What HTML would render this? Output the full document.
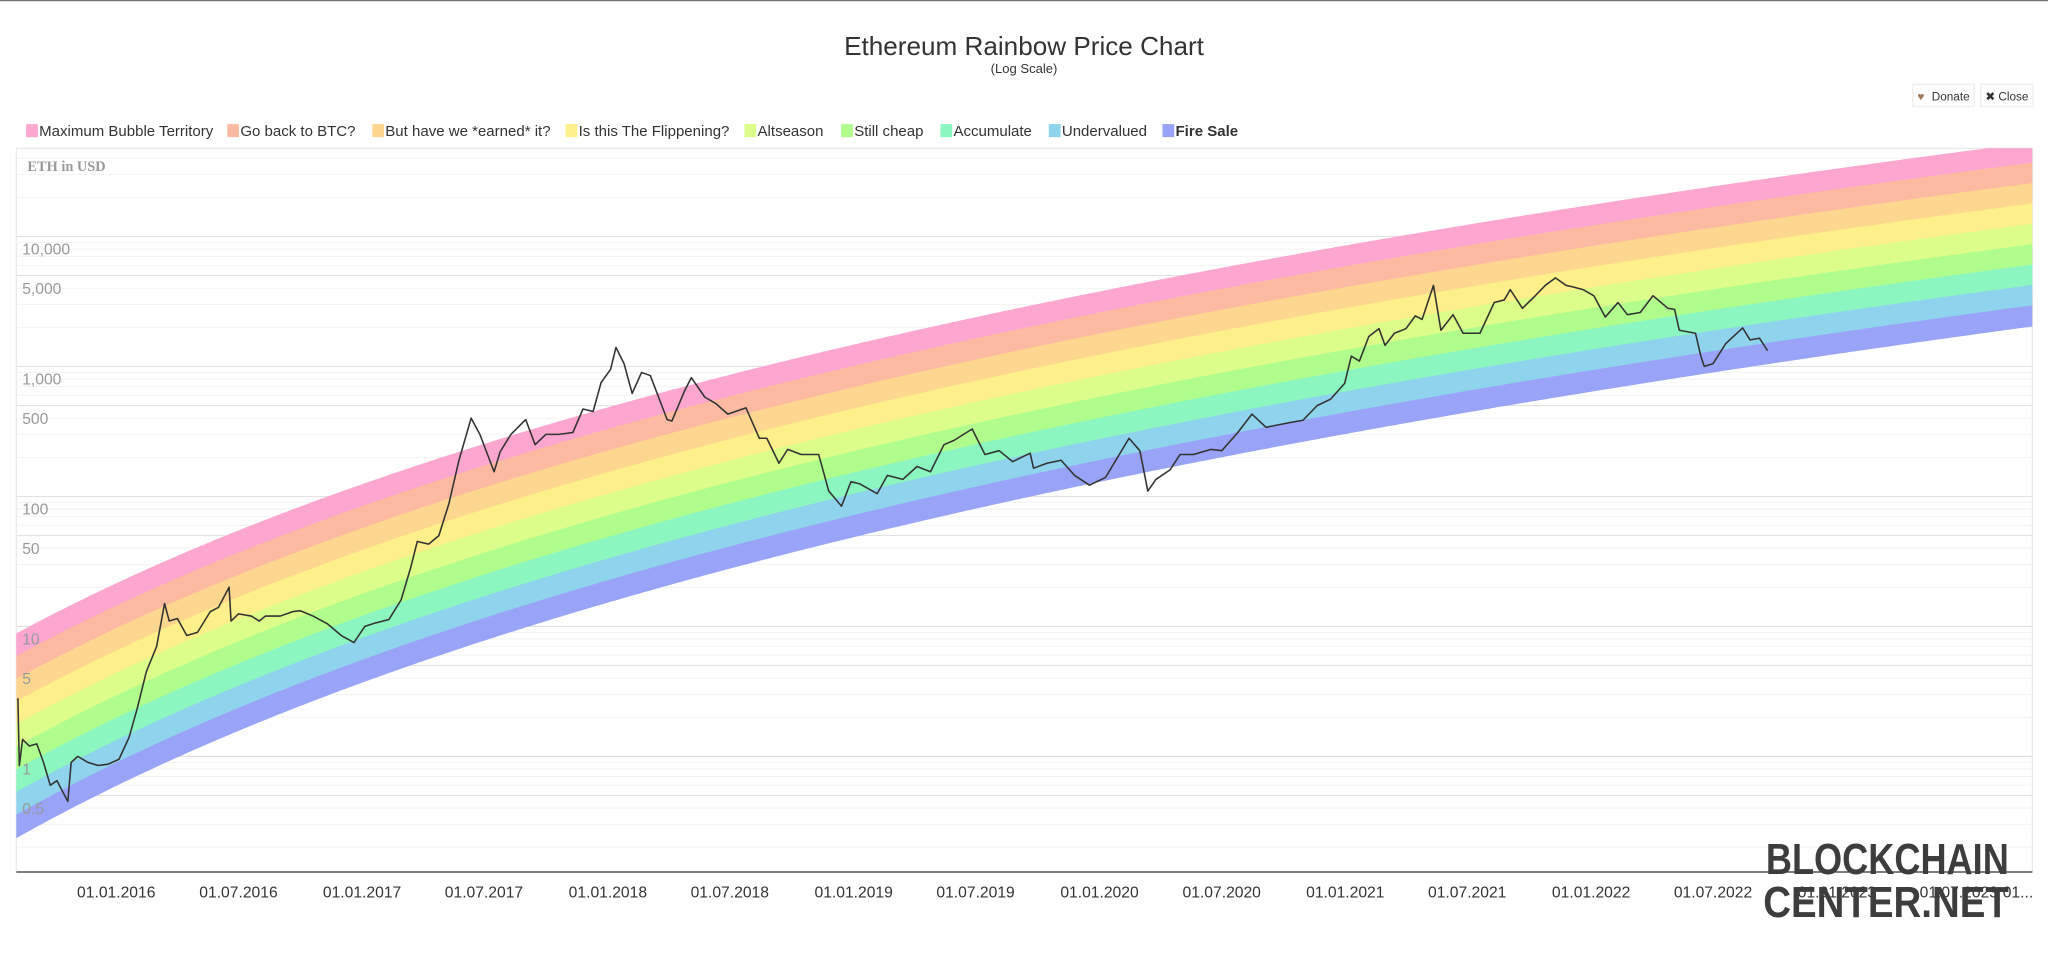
<!DOCTYPE html>
<html><head><meta charset="utf-8">
<style>
html,body{margin:0;padding:0;background:#fff;overflow:hidden}
svg{display:block;font-family:"Liberation Sans",sans-serif}
</style></head>
<body>
<svg id="chart" width="2048" height="968" viewBox="0 0 1568 741" preserveAspectRatio="none" xmlns="http://www.w3.org/2000/svg">
  <line x1="0" y1="0.5" x2="1568" y2="0.5" stroke="#777" stroke-width="1"/>
  <text x="784" y="42" text-anchor="middle" font-size="20" fill="#333">Ethereum Rainbow Price Chart</text>
  <text x="784" y="56" text-anchor="middle" font-size="10" fill="#333">(Log Scale)</text>
  <g>
    <rect x="1464.5" y="64.5" width="47" height="17" fill="#fff" stroke="#eee"/>
    <text x="1468" y="77" font-size="9" fill="#a0785a">♥</text>
    <text x="1479" y="77" font-size="9" fill="#333">Donate</text>
  </g>
  <g>
    <rect x="1516.5" y="64.5" width="40" height="17" fill="#fff" stroke="#eee"/>
    <text x="1520" y="77" font-size="9" fill="#333">✖ Close</text>
  </g>
  <g id="legend"></g>
  <rect x="12.5" y="113.5" width="1543.5" height="554" fill="#fff" stroke="#e6e6e6" stroke-width="0.8"/>
  <g id="grid"></g>
  <clipPath id="plotclip"><rect x="12.5" y="113.5" width="1543.5" height="554"/></clipPath>
  <g id="bands" clip-path="url(#plotclip)"></g>
  <g id="ylabels"></g>
  <text x="21" y="131" font-family="Liberation Serif,serif" font-weight="bold" font-size="11" fill="#999">ETH in USD</text>
  <g id="price" clip-path="url(#plotclip)"></g>
  <line x1="12.5" y1="667.5" x2="1556" y2="667.5" stroke="#333" stroke-width="1"/>
  <g id="xlabels"></g>
  <g>
    <text x="1352" y="669" font-size="33" font-weight="bold" fill="#3d3d3d" textLength="186" lengthAdjust="spacingAndGlyphs">BLOCKCHAIN</text>
    <text x="1350" y="702" font-size="33" font-weight="bold" fill="#3d3d3d" textLength="188" lengthAdjust="spacingAndGlyphs">CENTER.NET</text>
  </g>
</svg>
<script>
const bandNames = ["Maximum Bubble Territory","Go back to BTC?","But have we *earned* it?","Is this The Flippening?","Altseason","Still cheap","Accumulate","Undervalued","Fire Sale"];
const bandColors = ["#fda6cf","#fdbaa2","#fdd68f","#fdf08a","#ddfd8a","#b0fd8d","#8cf6c0","#8fd3ec","#99a4f8"];
const legendX = [20,174,285,433,570,644,720,803,890];
const yTickValues = [10000,5000,1000,500,100,50,10,5,1,0.5];
const yTickLabels = ["10,000","5,000","1,000","500","100","50","10","5","1","0.5"];
const xTickDates = ["2016-01-01","2016-07-01","2017-01-01","2017-07-01","2018-01-01","2018-07-01","2019-01-01","2019-07-01","2020-01-01","2020-07-01","2021-01-01","2021-07-01","2022-01-01","2022-07-01","2023-01-01","2023-07-01"];
const xTickLabels = ["01.01.2016","01.07.2016","01.01.2017","01.07.2017","01.01.2018","01.07.2018","01.01.2019","01.07.2019","01.01.2020","01.07.2020","01.01.2021","01.07.2021","01.01.2022","01.07.2022","01.01.2023","01.07.2023"];
const priceDates = ["2015-08-08","2015-08-10","2015-08-15","2015-08-25","2015-09-05","2015-09-15","2015-09-25","2015-10-05","2015-10-21","2015-10-26","2015-11-05","2015-11-20","2015-12-05","2015-12-20","2016-01-05","2016-01-20","2016-02-01","2016-02-15","2016-03-01","2016-03-13","2016-03-20","2016-04-01","2016-04-15","2016-05-01","2016-05-20","2016-06-01","2016-06-17","2016-06-20","2016-07-01","2016-07-20","2016-08-01","2016-08-10","2016-09-01","2016-09-20","2016-10-01","2016-10-20","2016-11-10","2016-12-01","2016-12-20","2017-01-05","2017-01-20","2017-02-10","2017-02-28","2017-03-14","2017-03-24","2017-04-10","2017-04-25","2017-05-10","2017-05-25","2017-06-12","2017-06-25","2017-07-16","2017-07-25","2017-08-10","2017-09-01","2017-09-15","2017-10-01","2017-10-20","2017-11-10","2017-11-25","2017-12-10","2017-12-22","2018-01-05","2018-01-13","2018-01-25","2018-02-06","2018-02-20","2018-03-05","2018-03-30","2018-04-06","2018-04-25","2018-05-05","2018-05-25","2018-06-10","2018-06-28","2018-07-25","2018-08-14","2018-08-25","2018-09-12","2018-09-25","2018-10-15","2018-11-10","2018-11-25","2018-12-14","2018-12-28","2019-01-10","2019-02-05","2019-02-20","2019-03-15","2019-04-05","2019-04-25","2019-05-15","2019-05-30","2019-06-26","2019-07-15","2019-08-05","2019-08-25","2019-09-20","2019-09-25","2019-10-15","2019-11-05","2019-11-25","2019-12-17","2020-01-10","2020-02-14","2020-03-01","2020-03-13","2020-03-25","2020-04-15","2020-04-30","2020-05-20","2020-06-15","2020-07-01","2020-07-25","2020-08-15","2020-09-05","2020-10-10","2020-10-30","2020-11-20","2020-12-10","2020-12-31","2021-01-10","2021-01-22","2021-02-05","2021-02-20","2021-03-01","2021-03-15","2021-04-01","2021-04-15","2021-04-25","2021-05-12","2021-05-23","2021-06-10","2021-06-25","2021-07-20","2021-08-10","2021-08-25","2021-09-03","2021-09-21","2021-10-10","2021-10-25","2021-11-09","2021-11-25","2021-12-04","2021-12-20","2022-01-05","2022-01-22","2022-02-10","2022-02-24","2022-03-15","2022-04-03","2022-04-25","2022-05-05","2022-05-12","2022-06-05","2022-06-13","2022-06-18","2022-07-01","2022-07-20","2022-08-14","2022-08-25","2022-09-08","2022-09-20"];
const priceValues = [2.8,0.85,1.35,1.2,1.25,0.9,0.6,0.65,0.45,0.9,1.0,0.9,0.85,0.87,0.95,1.4,2.3,4.5,7,15,11,11.5,8.5,9,13,14,20,11,12.5,12,11,12,12,13,13.2,12,10.5,8.5,7.5,10,10.6,11.3,16,28,45,43,50,88,190,400,300,155,220,300,390,250,300,300,310,470,450,750,950,1400,1050,620,900,850,390,380,650,820,580,520,430,480,280,280,180,230,210,210,110,84,130,125,105,145,135,170,155,250,270,330,210,225,185,215,165,180,190,145,122,140,280,225,110,135,160,210,210,230,225,310,430,340,370,385,500,560,740,1200,1100,1700,1950,1450,1800,1950,2450,2300,4200,1900,2500,1800,1800,3100,3250,3900,2800,3500,4200,4800,4200,4100,3900,3500,2400,3100,2500,2600,3500,2800,2750,1900,1800,1200,1000,1050,1500,1980,1600,1650,1320];

const NS = "http://www.w3.org/2000/svg";
function mk(tag, attrs, parent){const e=document.createElementNS(NS,tag);for(const k in attrs)e.setAttribute(k,attrs[k]);parent.appendChild(e);return e;}
function yearFrac(s){const d=new Date(s+"T00:00:00Z");const y=d.getUTCFullYear();const s0=Date.UTC(y,0,1),s1=Date.UTC(y+1,0,1);return y+(d-s0)/(s1-s0);}
function xScale(t){return 89+(t-2016)*188.2;}
function xInv(x){return 2016+(x-89)/188.2;}
function yScale(v){return 181+(4-Math.log10(v))*99.5;}
function yLog(l){return 181+(4-l)*99.5;}
function bandBottom(t){return 2.76*Math.log(t-2013)-3.256;}
function bandTop(t){return 2.65*Math.log(t-2013)-1.583;}

const lg=document.getElementById('legend');
bandNames.forEach((n,i)=>{
  const g=mk('g',{},lg);
  
  
  mk('rect',{x:legendX[i],y:95,width:9,height:10,fill:bandColors[i]},g);
  const t=mk('text',{x:legendX[i]+10,y:104,'font-size':11.5,fill:'#333','font-weight':i===8?'bold':'normal'},g);
  t.textContent=n;
});

const gr=document.getElementById('grid');
for(let k=-1;k<=4;k++){for(let m=1;m<=9;m++){
  const v=m*Math.pow(10,k);const y=yScale(v);
  if(y<114||y>667)continue;
  const major=(m===1||m===5);
  const l=mk('line',{x1:13,x2:1556,y1:y,y2:y,stroke:major?'#e2e2e2':'#f2f2f2','stroke-width':major?0.9:0.7},gr);
  
  
}}

const bg=document.getElementById('bands');
const xs=[];for(let x=12;x<=1558;x+=3)xs.push(x);
for(let i=0;i<9;i++){
  const fTop=(9-i)/9,fBot=(8-i)/9;
  let up=[],dn=[];
  xs.forEach(x=>{const t=xInv(x);const b=bandBottom(t),tp=bandTop(t);
    up.push(x+','+yLog(b+(tp-b)*fTop).toFixed(1));
    dn.push(x+','+yLog(b+(tp-b)*fBot).toFixed(1));});
  const p=mk('polygon',{points:up.concat(dn.reverse()).join(' '),fill:bandColors[i],stroke:bandColors[i],'stroke-width':0.6},bg);
  
  
}

const yl=document.getElementById('ylabels');
yTickLabels.forEach((s,i)=>{
  const t=mk('text',{x:17,y:yScale(yTickValues[i])+14,'font-size':12,fill:'#999'},yl);
  t.textContent=s;
  
  
});

const xl=document.getElementById('xlabels');
xTickLabels.forEach((s,i)=>{
  const x=xScale(yearFrac(xTickDates[i]));
  const t=mk('text',{x:x,y:687,'text-anchor':'middle','font-size':12,fill:'#333'},xl);
  t.textContent=s;
  
  
});
const tx=mk('text',{x:1545,y:687,'text-anchor':'middle','font-size':12,fill:'#333'},xl);
tx.textContent='01...';



const pts=priceDates.map((d,i)=>xScale(yearFrac(d)).toFixed(1)+','+yScale(priceValues[i]).toFixed(1));
const pl=mk('polyline',{points:pts.join(' '),fill:'none',stroke:'#333','stroke-width':1.2,'stroke-linejoin':'round'},document.getElementById('price'));


</script>
</body></html>
